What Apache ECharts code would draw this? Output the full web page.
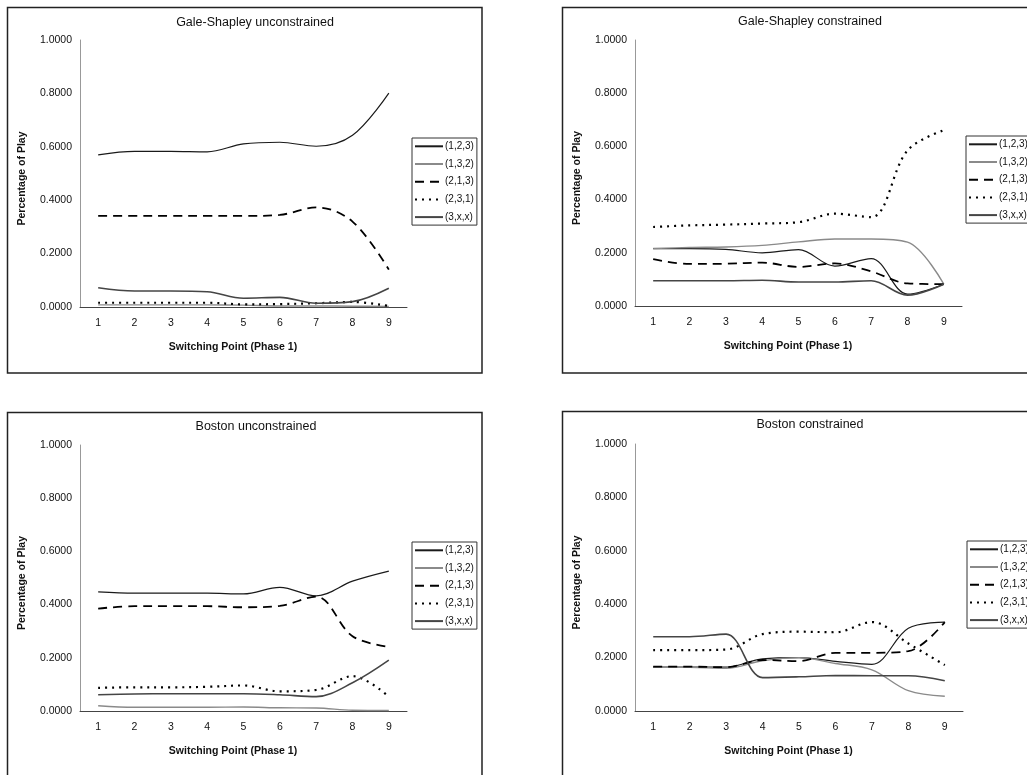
<!DOCTYPE html>
<html>
<head>
<meta charset="utf-8">
<script src="https://cdn.jsdelivr.net/npm/echarts@6/dist/echarts.min.js"></script>
<style>
html,body{margin:0;padding:0;background:#fff;}
#chart{width:1027px;height:775px;}
</style>
</head>
<body>
<div id="chart"></div>
<script>
// ---- data ----
const xLabels = ['1','2','3','4','5','6','7','8','9'];
const seriesNames = ['(1,2,3)','(1,3,2)','(2,1,3)','(2,3,1)','(3,x,x)'];
const panelTitles = ['Gale-Shapley unconstrained','Gale-Shapley constrained','Boston unconstrained','Boston constrained'];
const xAxisTitle = 'Switching Point (Phase 1)';
const yAxisTitle = 'Percentage of Play';

// Gale-Shapley unconstrained
const gsU_123 = [0.570,0.583,0.583,0.581,0.611,0.617,0.602,0.643,0.801];
const gsU_132 = [0.008,0.008,0.008,0.008,0.007,0.004,0.004,0.003,0.002];
const gsU_213 = [0.341,0.341,0.341,0.341,0.341,0.345,0.373,0.320,0.140];
const gsU_231 = [0.016,0.016,0.016,0.016,0.010,0.011,0.014,0.019,0.004];
const gsU_3xx = [0.072,0.060,0.060,0.057,0.033,0.036,0.014,0.020,0.070];

// Gale-Shapley constrained
const gsC_123 = [0.216,0.216,0.213,0.200,0.212,0.150,0.178,0.045,0.082];
const gsC_132 = [0.216,0.220,0.222,0.228,0.241,0.252,0.252,0.240,0.082];
const gsC_213 = [0.176,0.158,0.159,0.163,0.147,0.160,0.130,0.085,0.082];
const gsC_231 = [0.297,0.303,0.306,0.310,0.315,0.347,0.334,0.585,0.661];
const gsC_3xx = [0.095,0.095,0.095,0.097,0.090,0.090,0.095,0.041,0.082];

// Boston unconstrained
const bU_123 = [0.448,0.443,0.443,0.443,0.440,0.465,0.433,0.488,0.526];
const bU_132 = [0.020,0.014,0.014,0.014,0.015,0.012,0.011,0.003,0.002];
const bU_213 = [0.385,0.394,0.394,0.394,0.390,0.395,0.430,0.281,0.241];
const bU_231 = [0.087,0.089,0.089,0.091,0.096,0.074,0.079,0.131,0.054];
const bU_3xx = [0.061,0.064,0.065,0.065,0.065,0.061,0.054,0.106,0.191];

// Boston constrained
const bC_123 = [0.164,0.164,0.164,0.195,0.200,0.186,0.175,0.310,0.333];
const bC_132 = [0.164,0.164,0.160,0.188,0.200,0.178,0.154,0.076,0.055];
const bC_213 = [0.166,0.166,0.164,0.191,0.187,0.218,0.218,0.224,0.333];
const bC_231 = [0.228,0.228,0.230,0.288,0.297,0.295,0.333,0.253,0.172];
const bC_3xx = [0.278,0.278,0.288,0.125,0.128,0.133,0.132,0.132,0.113];

const panelData = [
  [gsU_123, gsU_132, gsU_213, gsU_231, gsU_3xx],
  [gsC_123, gsC_132, gsC_213, gsC_231, gsC_3xx],
  [bU_123, bU_132, bU_213, bU_231, bU_3xx],
  [bC_123, bC_132, bC_213, bC_231, bC_3xx]
];

// ---- styles / layout ----
const FONT = 'Liberation Sans, Arial, sans-serif';
const lineStyles = [
  {color:'#1a1a1a', width:1.2, type:'solid'},
  {color:'#8a8a8a', width:1.4, type:'solid'},
  {color:'#000000', width:1.8, type:[9,6]},
  {color:'#000000', width:2.2, type:[2,5]},
  {color:'#454545', width:1.6, type:'solid'}
];
const grids = [
  {left:80, top:40, width:327, height:267},
  {left:635, top:40, width:327, height:266},
  {left:80, top:445, width:327, height:266},
  {left:635, top:444, width:328, height:267}
];
const titlePos = [[255,16.5],[810,15.5],[256,420.5],[810,418.5]];
const legendPos = [[412,138],[966,136],[412,542],[967,541]];
const boxes = [
  [7.5,7.5,474.5,365.5],
  [562.5,7.5,500,365.5],
  [7.5,412.5,474.5,400],
  [562.5,411.5,500,400]
];

const option = {
  animation:false,
  backgroundColor:'#ffffff',
  textStyle:{fontFamily:FONT},
  title: panelTitles.map((t,i)=>({
    text:t, left:titlePos[i][0], top:titlePos[i][1], textAlign:'center', padding:0,
    textStyle:{fontFamily:FONT, fontSize:12.5, fontWeight:'normal', color:'#111'}
  })),
  legend: legendPos.map((p,i)=>({
    data:seriesNames, orient:'vertical', left:p[0], top:p[1],
    itemWidth:28, itemHeight:10, itemGap:7.7,
    padding:[3.3,3,3,2],
    borderColor:'#333', borderWidth:1, backgroundColor:'#fff',
    selectedMode:false,
    itemStyle:{color:'rgba(0,0,0,0)', borderColor:'rgba(0,0,0,0)', borderWidth:0, opacity:0},
    textStyle:{fontFamily:FONT, fontSize:10, color:'#111', padding:[0,0,0,-3]}
  })),
  grid: grids,
  xAxis: grids.map((g,i)=>({
    type:'category', gridIndex:i, data:xLabels, boundaryGap:true,
    axisTick:{show:false},
    axisLine:{lineStyle:{color:'#444', width:1}},
    axisLabel:{fontFamily:FONT, fontSize:10.5, color:'#111', margin:11},
    name:xAxisTitle, nameLocation:'middle', nameGap:35,
    nameTextStyle:{fontFamily:FONT, fontSize:10.5, fontWeight:'bold', color:'#111', padding:[0,21,0,0]},
    splitLine:{show:false}
  })),
  yAxis: grids.map((g,i)=>({
    type:'value', gridIndex:i, min:0, max:1, interval:0.2,
    axisLine:{show:true, lineStyle:{color:'#999', width:1}},
    axisTick:{show:false},
    splitLine:{show:false},
    axisLabel:{fontFamily:FONT, fontSize:10.5, color:'#111', margin:8, formatter:v=>v.toFixed(4)},
    name:yAxisTitle, nameLocation:'middle', nameGap:52, nameRotate:90,
    nameTextStyle:{fontFamily:FONT, fontSize:10.5, fontWeight:'bold', color:'#111', padding:[0,10,0,0]}
  })),
  series: [],
  graphic: boxes.map(b=>({
    type:'rect', silent:true, z:-1,
    shape:{x:b[0], y:b[1], width:b[2], height:b[3]},
    style:{fill:'none', stroke:'#222', lineWidth:1.5}
  }))
};

panelData.forEach((arrs,pi)=>{
  arrs.forEach((arr,si)=>{
    const ls = lineStyles[si];
    option.series.push({
      type:'line', name:seriesNames[si], xAxisIndex:pi, yAxisIndex:pi,
      data:arr, smooth:0.35, symbol:'none', showSymbol:false,
      color:ls.color,
      lineStyle:{color:ls.color, width:ls.width, type:ls.type, cap:'butt'},
      itemStyle:{color:ls.color},
      emphasis:{disabled:true}
    });
  });
});

const chart = echarts.init(document.getElementById('chart'), null, {renderer:'canvas'});
chart.setOption(option);
</script>
</body>
</html>
